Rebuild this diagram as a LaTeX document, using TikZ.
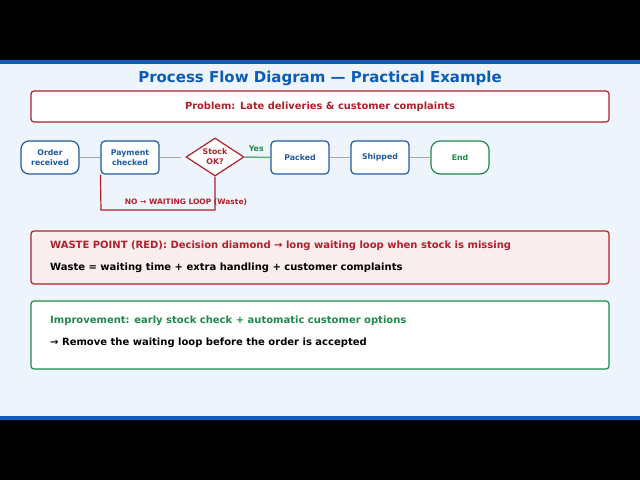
\documentclass[tikz,border=0pt]{standalone}
\usepackage{fontspec}
\setmainfont{DejaVu Sans}
\usetikzlibrary{shapes.geometric}
\definecolor{bl}{HTML}{1F5AA6}
\definecolor{rd}{HTML}{B0202A}
\definecolor{gr}{HTML}{1E8A4A}
\definecolor{bg}{HTML}{EEF4FB}
\definecolor{ttl}{HTML}{0B5CB8}
\begin{document}
\begin{tikzpicture}[x=1pt,y=-1pt,
 box/.style={draw=bl,line width=1.2pt,fill=white,rounded corners=4pt,minimum width=58pt,minimum height=33pt,align=center,font=\bfseries\fontsize{7.8}{10}\selectfont,text=bl},
 ln/.style={draw=gray!70,line width=1.8pt},
 panel/.style={rounded corners=3pt,line width=1.2pt}]
\fill[black] (0,0) rectangle (640,480);
\fill[bg] (0,62) rectangle (640,418);
\fill[ttl] (0,60) rectangle (640,64);
\fill[ttl] (0,416) rectangle (640,420);
\node[font=\bfseries\fontsize{15}{17}\selectfont,text=ttl] (t) at (320,78) {Process Flow Diagram — Practical Example};
\draw[panel,draw=rd,fill=white] (31,91) rectangle (609,122);
\node[font=\bfseries\fontsize{9.9}{10}\selectfont,text=rd] (p) at (320,106.5) {Problem: Late deliveries \& customer complaints};
\node[box,rounded corners=8pt] (a) at (50,157.5) {Order\\received};
\node[box] (b) at (130,157.5) {Payment\\checked};
\node[diamond,draw=rd,line width=1.2pt,fill=white,minimum width=58pt,minimum height=38pt,inner sep=0pt,aspect=1.5,text=rd,font=\bfseries\fontsize{7.8}{10}\selectfont,align=center] (c) at (215,157) {Stock\\OK?};
\node[box] (d) at (300,157.5) {Packed};
\node[box] (e) at (380,157.5) {Shipped};
\node[box,draw=gr,text=gr,rounded corners=9pt] (f) at (460,157.5) {End};
\draw[ln] (a) -- (b);
\draw[ln] (b.east) -- (181,157.5);
\draw[draw=gr!70,line width=1.5pt] (c.east) -- node[above,pos=0.45,font=\bfseries\fontsize{7.8}{9}\selectfont,text=gr,yshift=2pt]{Yes} (d.west);
\draw[ln] (d) -- (e);
\draw[ln] (e) -- (f);
\coordinate (l1) at (101,210);
\coordinate (l2) at (215,210);
\draw[rd,line width=1.2pt] (b.south west) -- (l1) -- (l2) -- (c.south);
\node[font=\bfseries\fontsize{7.5}{8}\selectfont,text=rd] (nl) at (186,202) {NO → WAITING LOOP (Waste)};
\draw[panel,draw=rd,fill=rd!8] (31,231) rectangle (609,284);
\node[anchor=west,inner sep=0pt,font=\bfseries\fontsize{10}{10}\selectfont,text=rd] (w1) at (50,246) {WASTE POINT (RED): Decision diamond → long waiting loop when stock is missing};
\node[anchor=west,inner sep=0pt,font=\bfseries\fontsize{10}{10}\selectfont] (w2) at (50,268) {Waste = waiting time + extra handling + customer complaints};
\draw[panel,draw=gr,fill=white] (31,301) rectangle (609,369);
\node[anchor=west,inner sep=0pt,font=\bfseries\fontsize{10}{10}\selectfont,text=gr] (i1) at (50,321) {Improvement: early stock check + automatic customer options};
\node[anchor=west,inner sep=0pt,font=\bfseries\fontsize{10}{10}\selectfont] (i2) at (50,343) {→ Remove the waiting loop before the order is accepted};
\end{tikzpicture}
\end{document}
